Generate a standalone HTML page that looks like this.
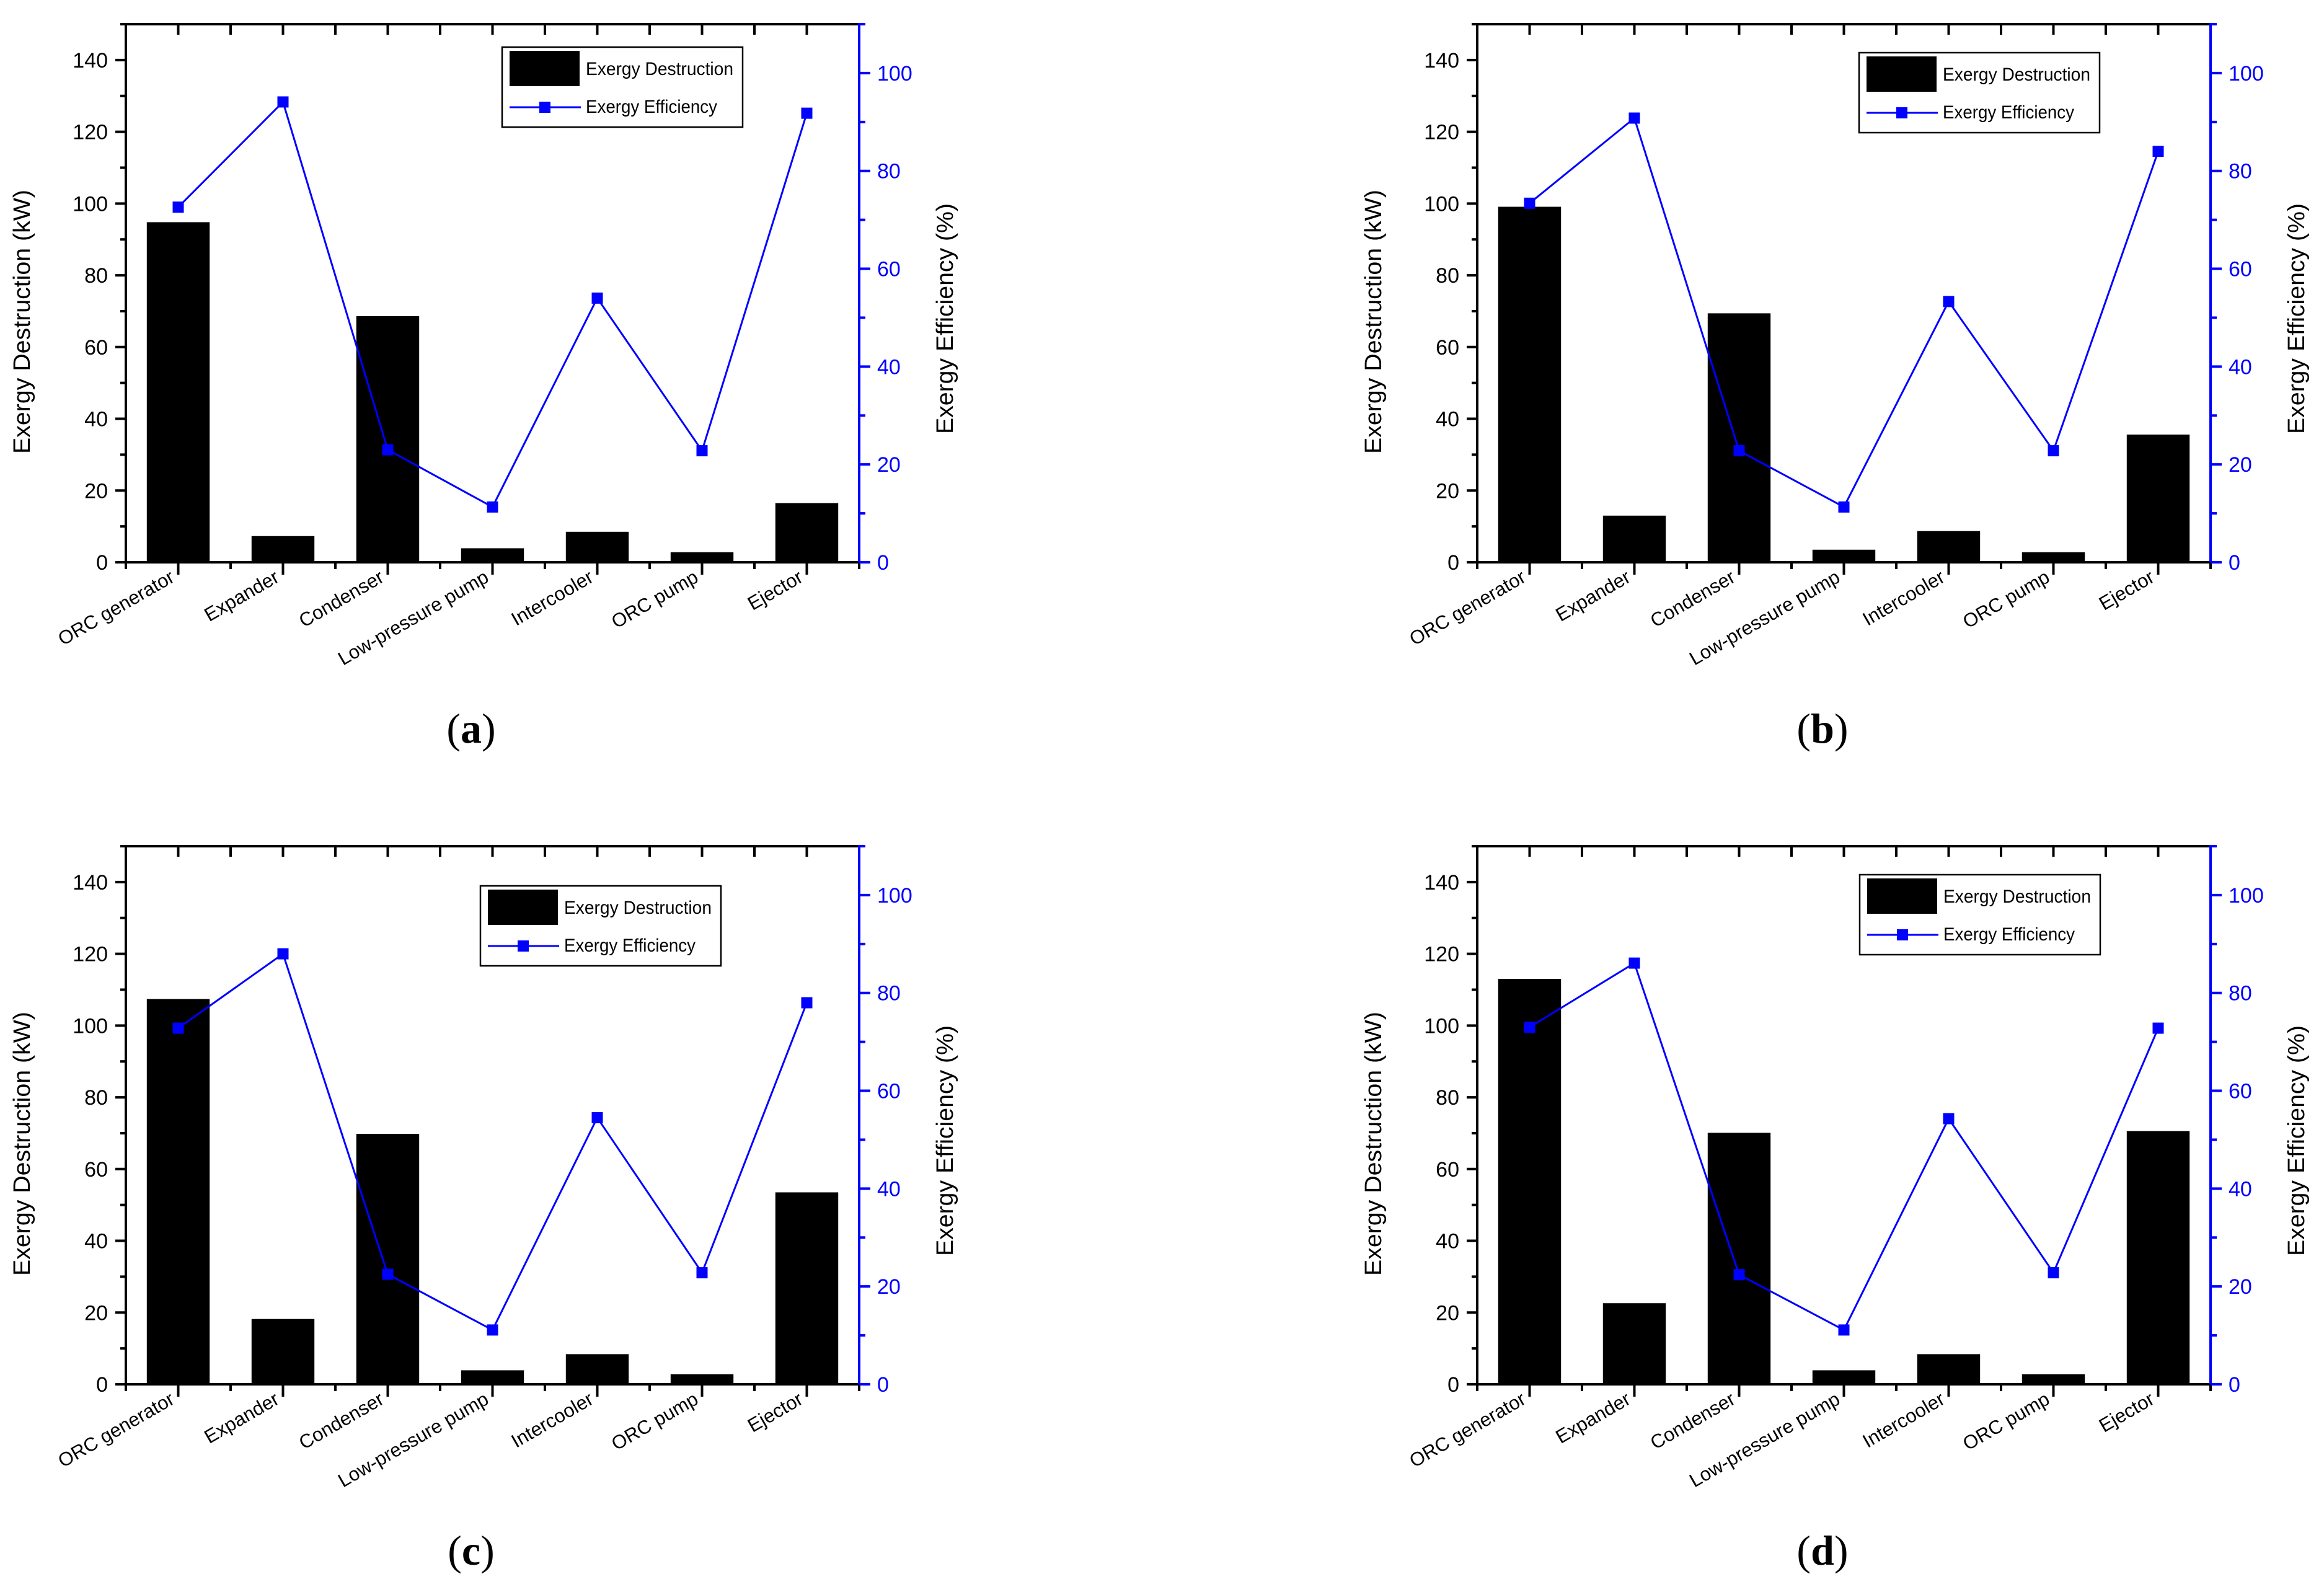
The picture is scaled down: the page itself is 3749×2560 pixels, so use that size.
<!DOCTYPE html>
<html><head><meta charset="utf-8">
<style>
html,body{margin:0;padding:0;background:#fff;}
svg{display:block;}
text{font-family:"Liberation Sans",sans-serif;}
</style></head>
<body>
<svg id="fig" xmlns="http://www.w3.org/2000/svg" width="3749" height="2560" viewBox="0 0 3749 2560"></svg>
<script>
const categories = ["ORC generator","Expander","Condenser","Low-pressure pump","Intercooler","ORC pump","Ejector"];
const destructionA = [94.8, 7.3, 68.6, 3.9, 8.5, 2.8, 16.5];
const efficiencyA  = [72.6, 94.1, 23.0, 11.3, 54.0, 22.8, 91.8];
const destructionB = [99.1, 13.0, 69.4, 3.5, 8.7, 2.8, 35.6];
const efficiencyB  = [73.4, 90.8, 22.8, 11.3, 53.3, 22.8, 84.0];
const destructionC = [107.4, 18.2, 69.8, 3.9, 8.4, 2.8, 53.5];
const efficiencyC  = [72.8, 88.0, 22.5, 11.1, 54.5, 22.8, 78.0];
const destructionD = [113.0, 22.6, 70.1, 3.9, 8.4, 2.8, 70.6];
const efficiencyD  = [73.0, 86.1, 22.4, 11.1, 54.3, 22.8, 72.8];
const leftTicks = [0, 20, 40, 60, 80, 100, 120, 140];
const rightTicks = [0, 20, 40, 60, 80, 100];
const panelLetters = ["a","b","c","d"];

const NS = "http://www.w3.org/2000/svg";
const svg = document.getElementById("fig");
function mk(tag, attrs, parent){
  const e = document.createElementNS(NS, tag);
  for (const k in attrs) e.setAttribute(k, attrs[k]);
  (parent||svg).appendChild(e);
  return e;
}

const panels = [
  {x0:203, y0:39, dest:destructionA, eff:efficiencyA, lx:607, ly:37},
  {x0:2383, y0:39, dest:destructionB, eff:efficiencyB, lx:616, ly:46},
  {x0:203, y0:1365, dest:destructionC, eff:efficiencyC, lx:572, ly:64},
  {x0:2383, y0:1365, dest:destructionD, eff:efficiencyD, lx:617, ly:46}
];
const W = 1183, H = 868;

panels.forEach((p, pi) => {
  const g = mk("g", {});
  
  
  const L = p.x0, T = p.y0, R = p.x0 + W, B = p.y0 + H;
  const band = W / categories.length;
  const xC = i => L + band * (i + 0.5);
  const yL = v => B - v / 150 * H;
  const yR = v => B - v / 110 * H;

  p.dest.forEach((v, i) => {
    const bw = band * 0.6;
    const r = mk("rect", {x: xC(i) - bw/2, y: yL(v), width: bw, height: B - yL(v), fill: "#000"}, g);
    
    
  });

  const axB = mk("line", {x1:L-2, y1:B, x2:R, y2:B, stroke:"#000", "stroke-width":4}, g);
  
  
  const axT = mk("line", {x1:L-2, y1:T, x2:R, y2:T, stroke:"#000", "stroke-width":4}, g);
  
  
  const axL = mk("line", {x1:L, y1:T-2, x2:L, y2:B+2, stroke:"#000", "stroke-width":4}, g);
  
  
  const axR = mk("line", {x1:R, y1:T-2, x2:R, y2:B+2, stroke:"#0000ff", "stroke-width":4}, g);
  
  

  for (let k = 0; k <= categories.length * 2; k++) {
    const x = L + band * k / 2;
    const major = k % 2 === 1;
    mk("line", {x1:x, y1:B, x2:x, y2:B + (major ? 20 : 11), stroke:"#000", "stroke-width":4}, g);
    if (k > 0 && k < categories.length * 2) mk("line", {x1:x, y1:T, x2:x, y2:T + 17, stroke:"#000", "stroke-width":4}, g);
  }
  categories.forEach((c, i) => {
    const x = xC(i) - 4, y = B + 30;
    const t = mk("text", {x:x, y:y, "text-anchor":"end", "font-size":31, fill:"#000", transform:`rotate(-30 ${x} ${y})`}, g);
    t.textContent = c;
    
    
  });

  for (let v = 0; v <= 150; v += 10) {
    const y = yL(v);
    const major = v % 20 === 0;
    mk("line", {x1:L, y1:y, x2:L - (major ? 17 : 9), y2:y, stroke:"#000", "stroke-width":4}, g);
  }
  leftTicks.forEach(v => {
    const t = mk("text", {x:L - 29, y:yL(v) + 12, "text-anchor":"end", "font-size":34, fill:"#000"}, g);
    t.textContent = v;
    
    
  });
  for (let v = 0; v <= 110; v += 10) {
    const y = yR(v);
    const major = v % 20 === 0;
    mk("line", {x1:R, y1:y, x2:R + (major ? 18 : 10), y2:y, stroke:"#0000ff", "stroke-width":4}, g);
  }
  rightTicks.forEach(v => {
    const t = mk("text", {x:R + 29, y:yR(v) + 12, "text-anchor":"start", "font-size":34, fill:"#0000ff"}, g);
    t.textContent = v;
    
    
  });

  const ly = T + 480, lx = L - 155;
  const tl = mk("text", {x:lx, y:ly, "text-anchor":"middle", "font-size":38, fill:"#000", textLength:426, lengthAdjust:"spacingAndGlyphs", transform:`rotate(-90 ${lx} ${ly})`}, g);
  tl.textContent = "Exergy Destruction (kW)";
  
  
  const ry = T + 475, rx = R + 151;
  const tr = mk("text", {x:rx, y:ry, "text-anchor":"middle", "font-size":38, fill:"#000", textLength:372, lengthAdjust:"spacingAndGlyphs", transform:`rotate(-90 ${rx} ${ry})`}, g);
  tr.textContent = "Exergy Efficiency (%)";
  
  

  const pts = p.eff.map((v, i) => `${xC(i)},${yR(v)}`).join(" ");
  const pl = mk("polyline", {points:pts, fill:"none", stroke:"#0000ff", "stroke-width":3}, g);
  
  
  p.eff.forEach((v, i) => {
    const m = mk("rect", {x:xC(i) - 9, y:yR(v) - 9, width:18, height:18, fill:"#0000ff"}, g);
    
    
  });

  const gx = L + p.lx, gy = T + p.ly;
  const lg = mk("g", {}, g);
  
  
  mk("rect", {x:gx, y:gy, width:388, height:129, fill:"#fff", stroke:"#000", "stroke-width":2.5}, lg);
  mk("rect", {x:gx + 12, y:gy + 6, width:113, height:57, fill:"#000"}, lg);
  const t1 = mk("text", {x:gx + 135, y:gy + 45, "font-size":30, fill:"#000", textLength:238, lengthAdjust:"spacingAndGlyphs"}, lg);
  t1.textContent = "Exergy Destruction";
  
  
  mk("line", {x1:gx + 12, y1:gy + 97, x2:gx + 127, y2:gy + 97, stroke:"#0000ff", "stroke-width":3}, lg);
  mk("rect", {x:gx + 60, y:gy + 88, width:18, height:18, fill:"#0000ff"}, lg);
  const t2 = mk("text", {x:gx + 135, y:gy + 106, "font-size":30, fill:"#000", textLength:212, lengthAdjust:"spacingAndGlyphs"}, lg);
  t2.textContent = "Exergy Efficiency";
  
  

  const px = L + 557, py = T + 1159;
  const pt = mk("text", {x:px, y:py, "text-anchor":"middle", "font-size":68, fill:"#000", style:"font-family:'Liberation Serif',serif"}, g);
  
  
  const s1 = mk("tspan", {}, pt); s1.textContent = "(";
  const s2 = mk("tspan", {"font-weight":"bold"}, pt); s2.textContent = panelLetters[pi];
  const s3 = mk("tspan", {}, pt); s3.textContent = ")";
});
</script>
</body></html>
